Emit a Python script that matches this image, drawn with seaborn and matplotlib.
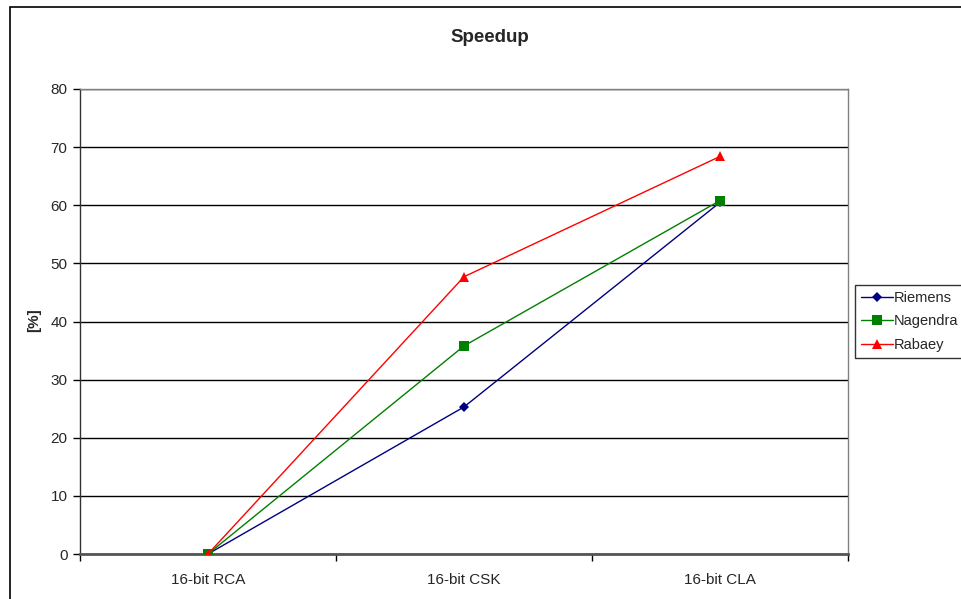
import matplotlib
matplotlib.use("Agg")
import matplotlib.pyplot as plt
from matplotlib.patches import Rectangle
from matplotlib.ticker import FixedLocator, NullFormatter
import seaborn as sns
import pandas as pd

categories = ["16-bit RCA", "16-bit CSK", "16-bit CLA"]
riemens = [0.0, 25.3, 60.5]
nagendra = [0.0, 35.8, 60.8]
rabaey = [0.0, 47.7, 68.4]
series_names = ["Riemens", "Nagendra", "Rabaey"]
y_ticks = [0, 10, 20, 30, 40, 50, 60, 70, 80]

sns.set_theme(style="white")
plt.rcParams["font.family"] = ["Liberation Sans", "DejaVu Sans"]

rows = []
for name, vals in zip(series_names, [riemens, nagendra, rabaey]):
    for i, v in enumerate(vals):
        rows.append({"pos": i, "value": v, "series": name})
df = pd.DataFrame(rows)

fig = plt.figure(figsize=(9.61, 5.99), dpi=100)
ax = fig.add_axes([80 / 961, 1 - 554 / 599, 768 / 961, 465 / 599])

palette = {"Riemens": "#000080", "Nagendra": "#008000", "Rabaey": "#FF0000"}
markers = {"Riemens": "D", "Nagendra": "s", "Rabaey": "^"}
sizes = {"Riemens": 5, "Nagendra": 6.5, "Rabaey": 7}

for name in series_names:
    sub = df[df["series"] == name]
    sns.lineplot(data=sub, x="pos", y="value", ax=ax, color=palette[name],
                 marker=markers[name], markersize=sizes[name], linewidth=1.0,
                 markeredgewidth=0, label=name, zorder=3)

ax.set_xlim(-0.5, 2.5)
ax.set_ylim(0, 80)
ax.set_yticks(y_ticks)
ax.set_yticklabels([str(t) for t in y_ticks], fontsize=11)
ax.yaxis.grid(True, color="black", linewidth=1.0)
ax.xaxis.grid(False)
ax.set_axisbelow(True)

# category boundaries get tick marks, category centres get labels
ax.xaxis.set_major_locator(FixedLocator([-0.5, 0.5, 1.5, 2.5]))
ax.xaxis.set_major_formatter(NullFormatter())
ax.xaxis.set_minor_locator(FixedLocator([0, 1, 2]))
ax.set_xticklabels(categories, minor=True, fontsize=11)
ax.tick_params(axis="x", which="major", length=5, width=1, color="black",
               direction="out", bottom=True)
ax.tick_params(axis="x", which="minor", length=0, pad=14)
ax.tick_params(axis="y", length=5, width=1, color="black", direction="out",
               left=True, pad=4)

for side in ["top", "right"]:
    ax.spines[side].set_color("#808080")
    ax.spines[side].set_linewidth(1.0)
ax.spines["left"].set_color("#333333")
ax.spines["left"].set_linewidth(1.0)
ax.spines["bottom"].set_color("#555555")
ax.spines["bottom"].set_linewidth(2.0)

ax.set_xlabel("")
ax.set_ylabel("")
fig.text(34 / 961, 1 - 320 / 599, "[%]", rotation=90, ha="center",
         va="center", fontsize=11, fontweight="bold")
fig.text(490 / 961, 1 - 38 / 599, "Speedup", ha="center", va="center",
         fontsize=13.5, fontweight="bold")

leg = ax.legend(loc="upper left", bbox_to_anchor=(855 / 961, 1 - 285 / 599),
                bbox_transform=fig.transFigure, fontsize=10.5, frameon=True,
                fancybox=False, borderpad=0.4, labelspacing=0.65,
                handlelength=2.2, handletextpad=0.05, borderaxespad=0)
leg.get_frame().set_edgecolor("black")
leg.get_frame().set_linewidth(1.0)

fig.patches.append(Rectangle((10 / 961, -0.1), 1.2, 1.1 - 7 / 599,
                             transform=fig.transFigure, fill=False,
                             edgecolor="black", linewidth=1.2))

fig.savefig("out.png", dpi=100)
